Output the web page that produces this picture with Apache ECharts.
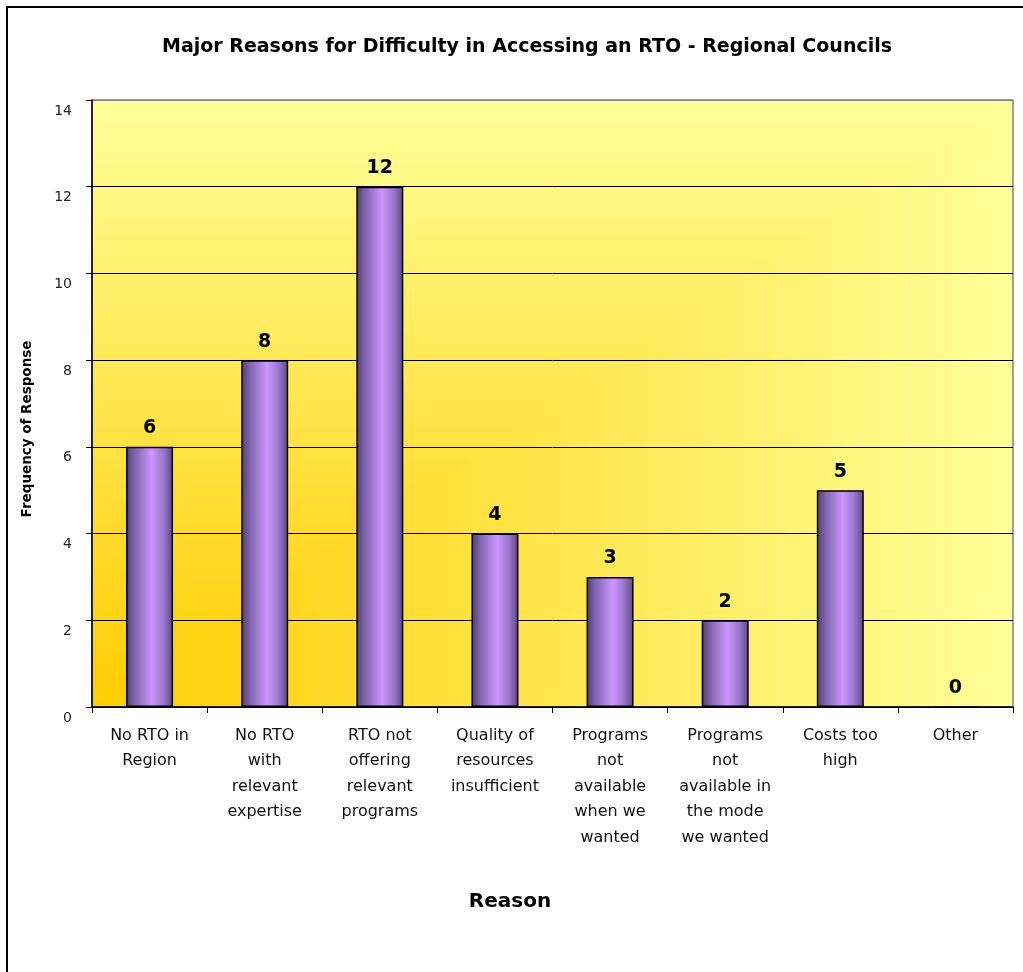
<!DOCTYPE html>
<html>
<head>
<meta charset="utf-8">
<script src="https://cdn.jsdelivr.net/npm/echarts@6/dist/echarts.min.js"></script>
<style>
  html, body { margin: 0; padding: 0; background: #ffffff; }
  #chart { width: 1023px; height: 972px; }
</style>
</head>
<body>
<div id="chart"></div>
<script>
// Reasons (wrapped as they are laid out under the axis)
const categories = [
  'No RTO in\nRegion',
  'No RTO\nwith\nrelevant\nexpertise',
  'RTO not\noffering\nrelevant\nprograms',
  'Quality of\nresources\ninsufficient',
  'Programs\nnot\navailable\nwhen we\nwanted',
  'Programs\nnot\navailable in\nthe mode\nwe wanted',
  'Costs too\nhigh',
  'Other'
];
// Number of responses per reason
const frequency = [6, 8, 12, 4, 3, 2, 5, 0];
const titleText = 'Major Reasons for Difficulty in Accessing an RTO - Regional Councils';
const yAxisTitle = 'Frequency of Response';
const xAxisTitle = 'Reason';

const W = 1023, H = 972;
const plot = { left: 92, top: 100, right: 1013, bottom: 707 };
const font = '"DejaVu Sans", Verdana, sans-serif';

// Plot-area fill: two-colour "from corner" shading, gold in the lower-left
// corner fading to pale yellow towards the top and right edges.
function cornerShade() {
  const cv = document.createElement('canvas');
  cv.width = W; cv.height = H;
  const ctx = cv.getContext('2d');
  const pw = plot.right - plot.left, ph = plot.bottom - plot.top;
  const img = ctx.createImageData(pw, ph);
  const c0 = [255, 204, 0], c1 = [255, 255, 153];
  for (let y = 0; y < ph; y++) {
    const v = (ph - 1 - y) / ph;
    for (let x = 0; x < pw; x++) {
      const t = Math.max(x / pw, v);
      const i = (y * pw + x) * 4;
      img.data[i] = c0[0] + (c1[0] - c0[0]) * t;
      img.data[i + 1] = c0[1] + (c1[1] - c0[1]) * t;
      img.data[i + 2] = c0[2] + (c1[2] - c0[2]) * t;
      img.data[i + 3] = 255;
    }
  }
  ctx.putImageData(img, plot.left, plot.top);
  return cv;
}

const chart = echarts.init(document.getElementById('chart'), null, { renderer: 'canvas' });

const barFill = new echarts.graphic.LinearGradient(0, 0, 1, 0, [
  { offset: 0, color: '#4d3c6e' },
  { offset: 0.18, color: '#7f63ad' },
  { offset: 0.55, color: '#cc95ff' },
  { offset: 0.8, color: '#9a76cc' },
  { offset: 1, color: '#5a4680' }
]);

chart.setOption({
  animation: false,
  backgroundColor: '#ffffff',
  title: {
    text: titleText,
    left: 522,
    top: 33,
    textAlign: 'center',
    textStyle: { fontFamily: font, fontSize: 19, fontWeight: 'bold', color: '#000' }
  },
  graphic: [
    {
      type: 'rect',
      shape: { x: 7, y: 7, width: 1040, height: 1000 },
      style: { fill: 'none', stroke: '#000', lineWidth: 2 },
      z: 100
    },
    {
      type: 'text',
      x: 510,
      y: 902,
      style: {
        text: xAxisTitle,
        fontFamily: font,
        fontSize: 20,
        fontWeight: 'bold',
        fill: '#000',
        align: 'center',
        verticalAlign: 'middle'
      }
    },
    {
      type: 'text',
      x: 27,
      y: 429,
      rotation: Math.PI / 2,
      style: {
        text: yAxisTitle,
        fontFamily: font,
        fontSize: 13.5,
        fontWeight: 'bold',
        fill: '#000',
        align: 'center',
        verticalAlign: 'middle'
      }
    }
  ],
  grid: {
    left: plot.left,
    right: W - plot.right,
    top: plot.top,
    bottom: H - plot.bottom,
    show: true,
    backgroundColor: { image: cornerShade(), repeat: 'no-repeat' },
    borderColor: '#808080',
    borderWidth: 1.5
  },
  xAxis: {
    type: 'category',
    data: categories,
    axisLine: { lineStyle: { color: '#000', width: 1.5 } },
    axisTick: { show: true, length: 6, lineStyle: { color: '#000' } },
    axisLabel: {
      interval: 0,
      margin: 16,
      fontFamily: font,
      fontSize: 16,
      lineHeight: 25.5,
      color: '#111',
      align: 'center'
    }
  },
  yAxis: {
    type: 'value',
    min: 0,
    max: 14,
    interval: 2,
    axisLine: { show: true, lineStyle: { color: '#000', width: 1.5 } },
    axisTick: { show: true, length: 6, lineStyle: { color: '#000' } },
    axisLabel: {
      margin: 20,
      fontFamily: font,
      fontSize: 14,
      color: '#222',
      verticalAlign: 'top',
      padding: [4, 0, 0, 0]
    },
    splitLine: {
      show: true,
      lineStyle: {
        color: ['#000', '#000', '#000', '#000', '#000', '#000', '#000', '#808080'],
        width: 1
      }
    }
  },
  series: [
    {
      type: 'bar',
      data: frequency,
      barWidth: 47,
      itemStyle: { color: barFill, borderColor: '#000', borderWidth: 1.5 },
      label: {
        show: true,
        position: 'top',
        distance: 9,
        fontFamily: font,
        fontSize: 19,
        fontWeight: 'bold',
        color: '#000'
      }
    }
  ]
});
</script>
</body>
</html>
